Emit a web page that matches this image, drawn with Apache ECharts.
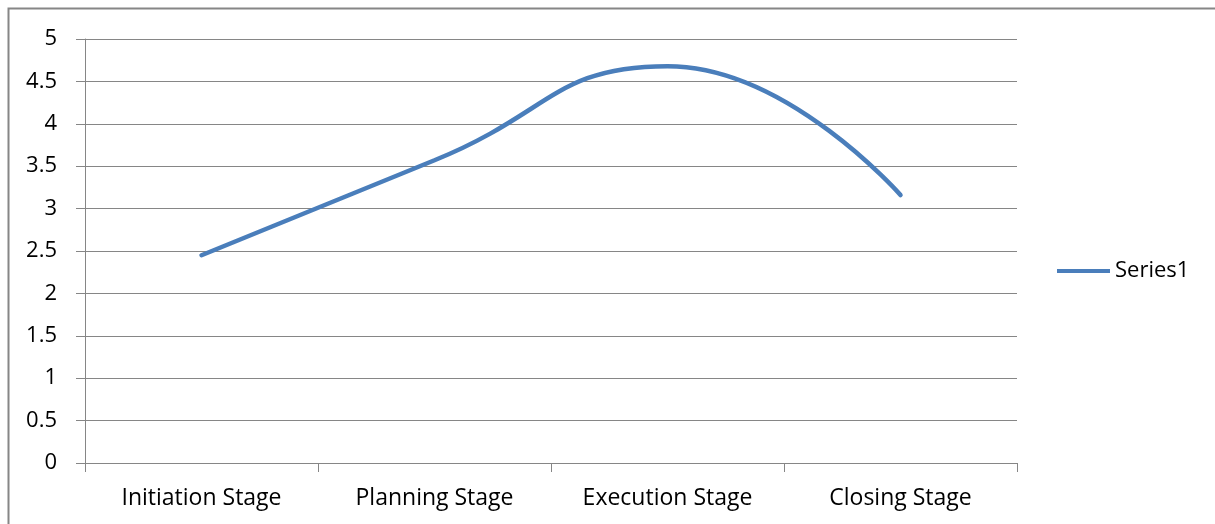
<!DOCTYPE html>
<html>
<head>
<meta charset="utf-8">
<script src="https://cdn.jsdelivr.net/npm/echarts@6/dist/echarts.min.js"></script>
<style>
  html, body { margin: 0; padding: 0; background: #fff; }
  #chart { width: 1215px; height: 524px; }
</style>
</head>
<body>
<div id="chart"></div>
<script>
// Project stages and their scores
const categories = ['Initiation Stage', 'Planning Stage', 'Execution Stage', 'Closing Stage'];
const series1 = [2.45, 3.57, 4.68, 3.16];
const seriesName = 'Series1';

const axisGray = '#868686';
const fontFamily = '"Open Sans", "Noto Sans", sans-serif';

const chart = echarts.init(document.getElementById('chart'), null, { renderer: 'canvas' });
chart.setOption({
  animation: false,
  backgroundColor: '#ffffff',
  graphic: [{
    type: 'rect',
    silent: true,
    shape: { x: 8.5, y: 8.5, width: 1400, height: 700 },
    style: { fill: 'none', stroke: axisGray, lineWidth: 2 }
  }],
  grid: { left: 85, top: 39, right: 198, bottom: 61, containLabel: false },
  legend: {
    data: [{ name: seriesName, icon: 'rect' }],
    left: 1057,
    top: 260,
    padding: 0,
    orient: 'vertical',
    itemWidth: 53,
    itemHeight: 4,
    textStyle: { fontFamily, fontSize: 22, color: '#000' }
  },
  xAxis: {
    type: 'category',
    data: categories,
    boundaryGap: true,
    axisLine: { show: true, lineStyle: { color: axisGray, width: 1 } },
    axisTick: { show: true, length: 9, lineStyle: { color: axisGray } },
    axisLabel: { margin: 24, fontFamily, fontSize: 23, color: '#000' },
    splitLine: { show: false }
  },
  yAxis: {
    type: 'value',
    min: 0,
    max: 5,
    interval: 0.5,
    axisLine: { show: true, lineStyle: { color: axisGray, width: 1 } },
    axisTick: { show: true, length: 9, lineStyle: { color: axisGray } },
    axisLabel: { margin: 28, fontFamily, fontSize: 22, color: '#000' },
    splitLine: { show: true, lineStyle: { color: axisGray, width: 1 } }
  },
  series: [{
    name: seriesName,
    type: 'line',
    data: series1,
    smooth: true,
    symbol: 'none',
    color: '#4a7ebb',
    lineStyle: { width: 4.5, color: '#4a7ebb', cap: 'round', join: 'round' }
  }]
});
</script>
</body>
</html>
